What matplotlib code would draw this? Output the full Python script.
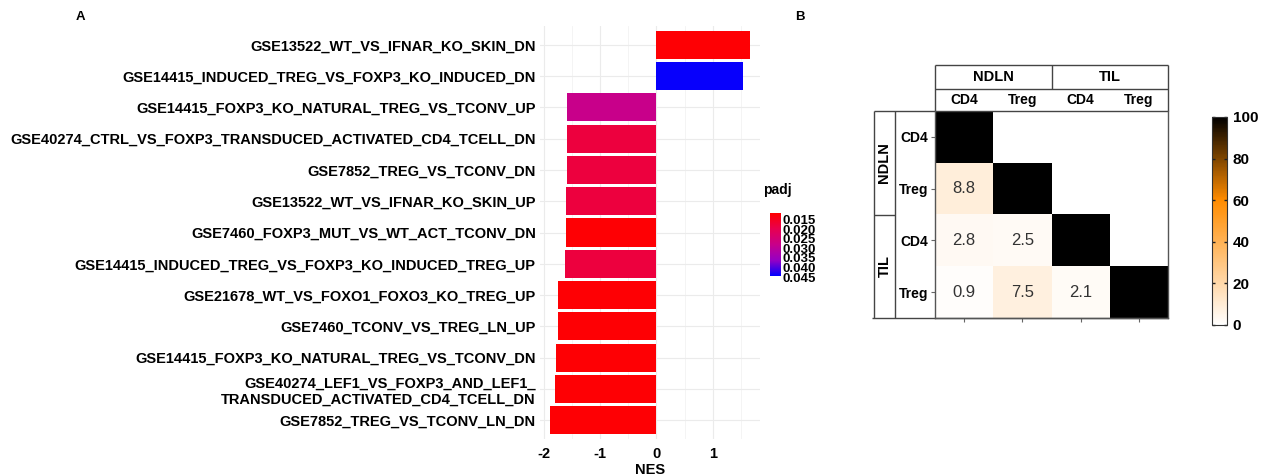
import numpy as np
import matplotlib.pyplot as plt
from matplotlib.colors import LinearSegmentedColormap, Normalize
from matplotlib.ticker import MultipleLocator
import matplotlib.cm as cm

plt.rcParams['font.family'] = ['Liberation Sans', 'DejaVu Sans']

# panel A data
pathways = [
    "GSE13522_WT_VS_IFNAR_KO_SKIN_DN",
    "GSE14415_INDUCED_TREG_VS_FOXP3_KO_INDUCED_DN",
    "GSE14415_FOXP3_KO_NATURAL_TREG_VS_TCONV_UP",
    "GSE40274_CTRL_VS_FOXP3_TRANSDUCED_ACTIVATED_CD4_TCELL_DN",
    "GSE7852_TREG_VS_TCONV_DN",
    "GSE13522_WT_VS_IFNAR_KO_SKIN_UP",
    "GSE7460_FOXP3_MUT_VS_WT_ACT_TCONV_DN",
    "GSE14415_INDUCED_TREG_VS_FOXP3_KO_INDUCED_TREG_UP",
    "GSE21678_WT_VS_FOXO1_FOXO3_KO_TREG_UP",
    "GSE7460_TCONV_VS_TREG_LN_UP",
    "GSE14415_FOXP3_KO_NATURAL_TREG_VS_TCONV_DN",
    "GSE40274_LEF1_VS_FOXP3_AND_LEF1_\nTRANSDUCED_ACTIVATED_CD4_TCELL_DN",
    "GSE7852_TREG_VS_TCONV_LN_DN",
]
nes = [1.66, 1.53, -1.59, -1.59, -1.59, -1.60, -1.61, -1.63, -1.74, -1.75, -1.79, -1.81, -1.89]
padj = [0.012, 0.044, 0.028, 0.018, 0.018, 0.018, 0.012, 0.018, 0.012, 0.012, 0.012, 0.012, 0.012]
padj_ticks = [0.015, 0.020, 0.025, 0.030, 0.035, 0.040, 0.045]

# panel B data
groups = ["NDLN", "TIL"]
cells = ["CD4", "Treg", "CD4", "Treg"]
overlap = np.array([
    [100, np.nan, np.nan, np.nan],
    [8.8, 100, np.nan, np.nan],
    [2.8, 2.5, 100, np.nan],
    [0.9, 7.5, 2.1, 100],
])

W, H = 1265, 476
fig = plt.figure(figsize=(W / 100, H / 100), dpi=100)

def box(l, t, r, b):
    return [l / W, 1 - b / H, (r - l) / W, (b - t) / H]

# ---------------- panel A ----------------
ax = fig.add_axes(box(540, 26, 760, 439))
red_blue = LinearSegmentedColormap.from_list(
    "rb", ["#FF0000", "#E8004F", "#C8008A", "#9500C4", "#0000FF"])
norm = Normalize(vmin=0.0115, vmax=0.0445)
ypos = np.arange(len(pathways))
ax.barh(ypos, nes, height=0.9, color=red_blue(norm(padj)), zorder=3)
ax.set_yticks(ypos)
ax.set_yticklabels(pathways, fontsize=10.5, fontweight='bold', linespacing=1.25)
rng = max(nes) - min(nes)
ax.set_xlim(min(nes) - 0.05 * rng, max(nes) + 0.05 * rng)
ax.set_ylim(len(pathways) - 0.4, -0.6)
ax.set_xticks([-2, -1, 0, 1])
ax.set_xticklabels(["-2", "-1", "0", "1"], fontsize=10.5, fontweight='bold')
ax.xaxis.set_minor_locator(MultipleLocator(0.5))
ax.tick_params(length=0, pad=3)
ax.tick_params(axis='x', which='both', length=0, pad=6)
ax.grid(True, which='major', color='#EBEBEB', lw=0.8, zorder=0)
ax.grid(True, which='minor', axis='x', color='#F3F3F3', lw=0.6, zorder=0)
for s in ax.spines.values():
    s.set_visible(False)
ax.set_xlabel("NES", fontsize=10.5, fontweight='bold', labelpad=1)

cax = fig.add_axes(box(770, 213, 781, 277))
cb = fig.colorbar(cm.ScalarMappable(norm=norm, cmap=red_blue), cax=cax)
cb.set_ticks(padj_ticks)
cb.ax.invert_yaxis()
cb.outline.set_visible(False)
cb.ax.tick_params(length=0, pad=1, labelsize=9.5)
for t in cb.ax.get_yticklabels():
    t.set_fontweight('bold')
fig.text(763 / W, 1 - 190 / H, "padj", fontsize=10, fontweight='bold', ha='left', va='center')

fig.text(80 / W, 1 - 17 / H, "A", fontsize=9.5, fontweight='bold', ha='center', va='center')
fig.text(800 / W, 1 - 17 / H, "B", fontsize=9.5, fontweight='bold', ha='center', va='center')

# ---------------- panel B ----------------
hm_cmap = LinearSegmentedColormap.from_list(
    "wob", [(0, "#FFFFFF"), (0.6, "#FF8C00"), (1.0, "#000000")])
hx = fig.add_axes(box(935, 111, 1168, 318))
im = hx.imshow(overlap, cmap=hm_cmap, vmin=0, vmax=100, aspect='auto',
               extent=(-0.5, 3.5, 3.5, -0.5), interpolation='nearest')
for i in range(4):
    for j in range(4):
        v = overlap[i, j]
        if not np.isnan(v) and v < 100:
            hx.text(j, i, f"{v:.1f}", ha='center', va='center', fontsize=12, color='#333333')
hx.set_xlim(-0.5, 3.5)
hx.set_ylim(3.5, -0.5)
hx.set_xticks(range(4))
hx.set_xticklabels([])
hx.set_yticks(range(4))
hx.set_yticklabels(cells, fontsize=10, fontweight='bold')
hx.tick_params(length=3, color='#666666', width=0.8, pad=2)
for s in hx.spines.values():
    s.set_color('#555555')
    s.set_linewidth(1)
hx.spines['top'].set_visible(False)

lc = '#444444'
lw = 1
y_top, y_mid, y_hm = -1.389, -0.925, -0.5
x_out, x_in = -1.547, -1.187
def seg(xs, ys):
    hx.plot(xs, ys, color=lc, lw=lw, clip_on=False, solid_capstyle='butt')
# column header boxes
seg([-0.5, 3.5], [y_top, y_top])
seg([-0.5, 3.5], [y_mid, y_mid])
seg([-0.5, -0.5], [y_top, y_hm])
seg([3.5, 3.5], [y_top, y_hm])
seg([1.5, 1.5], [y_top, y_mid])
seg([-0.5, 3.5], [y_hm, y_hm])
# row header boxes
seg([x_out, -0.5], [y_hm, y_hm])
seg([x_out, x_out], [y_hm, 3.5])
seg([x_in, x_in], [y_hm, 3.5])
seg([x_out, x_in], [1.5, 1.5])
seg([x_out - 0.03, 3.5], [3.5, 3.5])

for k, g in enumerate(groups):
    hx.text(0.5 + 2 * k, (y_top + y_mid) / 2, g, ha='center', va='center',
            fontsize=10.5, fontweight='bold')
    hx.text((x_out + x_in) / 2, 0.5 + 2 * k, g, ha='center', va='center',
            fontsize=10.5, fontweight='bold', rotation=90)
for j, c in enumerate(cells):
    hx.text(j, (y_mid + y_hm) / 2, c, ha='center', va='center',
            fontsize=10, fontweight='bold')

bcax = fig.add_axes(box(1212, 117, 1227, 325))
bcb = fig.colorbar(im, cax=bcax)
bcb.set_ticks([0, 20, 40, 60, 80, 100])
bcb.outline.set_edgecolor('#333333')
bcb.outline.set_linewidth(0.8)
bcb.ax.tick_params(length=2.5, width=1, color='#222222', direction='in', labelsize=11, pad=4,
                   right=True, left=True)
for t in bcb.ax.get_yticklabels():
    t.set_fontweight('bold')

fig.savefig("out.png", dpi=100)
